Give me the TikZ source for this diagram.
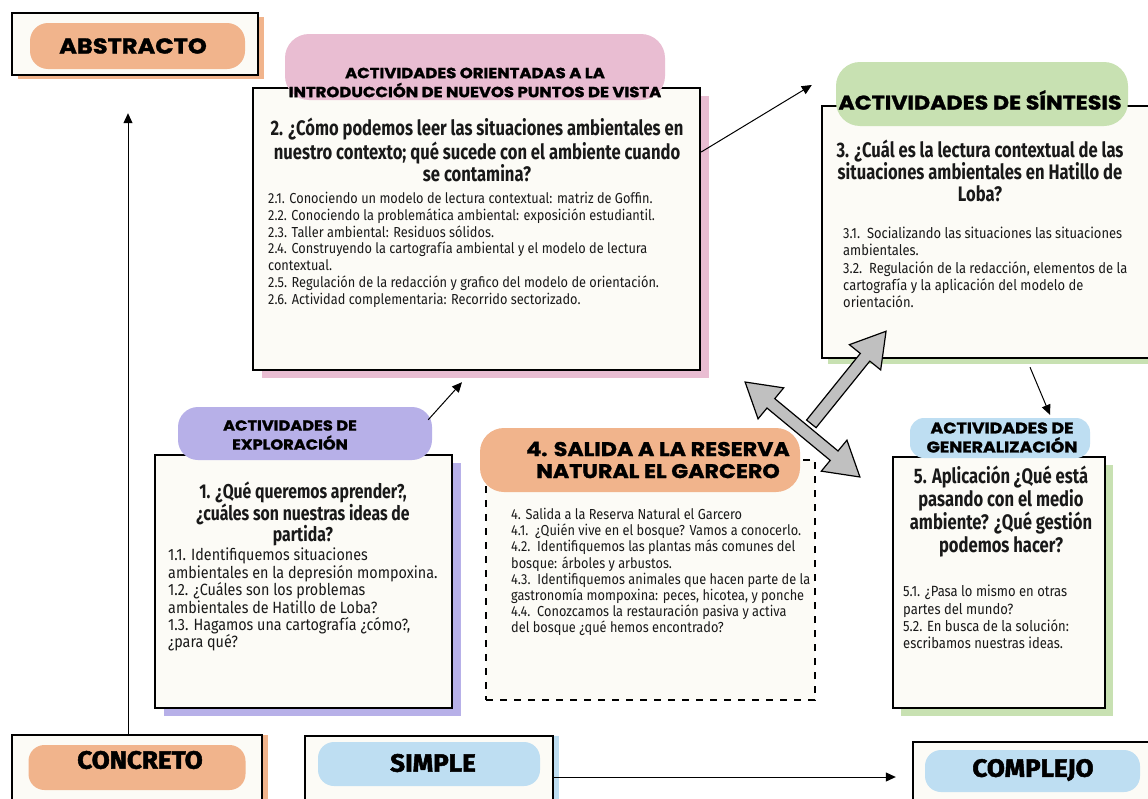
\documentclass[tikz,border=0pt]{standalone}
\usepackage{fontspec}
\setmainfont{Fira Sans}
\newfontfamily\bodyf[FakeStretch=0.88]{Fira Sans}
\newfontfamily\ttlf[FakeStretch=0.79]{Fira Sans}
\newfontfamily\headf[FakeStretch=1.12,FakeBold=1.5]{Poppins}
\newfontfamily\condf[FakeStretch=1.04,FakeBold=2]{Fira Sans}
\usetikzlibrary{arrows.meta,shapes.arrows,calc,shadows}
\definecolor{orangec}{RGB}{241,180,140}
\definecolor{pinkc}{RGB}{233,189,210}
\definecolor{greenc}{RGB}{200,225,178}
\definecolor{purplec}{RGB}{183,176,232}
\definecolor{bluec}{RGB}{190,222,242}
\definecolor{cream}{RGB}{252,251,246}
\definecolor{grayc}{RGB}{192,192,192}
\definecolor{inkc}{RGB}{25,25,25}
\begin{document}
\begin{tikzpicture}[x=1pt,y=-1pt,
  box/.style={draw=black, line width=2.4pt, fill=cream, inner sep=0},
  dbox/.style={draw=black, line width=1.8pt, dash pattern=on 7pt off 7pt, fill=cream, inner sep=0},
  blob/.style={rounded corners=18pt, inner sep=0},
  shad/.style 2 args={drop shadow={shadow xshift=#1, shadow yshift=#2, fill=shc, opacity=1}},
  hd/.style={font=\headf\bfseries\fontsize{14.7}{19}\selectfont, align=center, inner sep=0, text=black},
  ttl/.style={font=\ttlf\bfseries\fontsize{21}{22}\selectfont, align=center, inner sep=0, text=inkc},
  bdy/.style={font=\bodyf\fontsize{14.5}{16.8}\selectfont, align=left, inner sep=0, anchor=north west, text=inkc},
  big/.style={font=\condf\bfseries\fontsize{25}{27}\selectfont, inner sep=0, text=black},
  arr/.style={-{Triangle[length=10pt,width=9pt]}, line width=1pt},
  garr/.style={draw=black, line width=1.2pt, fill=grayc, inner sep=5.5pt}
]
\useasboundingbox (0,0) rectangle (1148,798);
\fill[white] (0,0) rectangle (1148,798);

% ABSTRACTO
\colorlet{shc}{orangec}
\node[box, minimum width=246, minimum height=62, shad={6pt}{-4pt}] (abs) at (135,44) {};
\node[blob, fill=orangec, minimum width=215, minimum height=46] (absb) at (137.5,46) {};
\node[font=\headf\bfseries\fontsize{21.5}{24}\selectfont, inner sep=0, text=black] (abst) at (133,46) {ABSTRACTO};

% Box 2 (pink)
\colorlet{shc}{pinkc}
\node[box, minimum width=447, minimum height=282, shad={9pt}{-8pt}] (b2) at (476.5,229) {};
\node[blob, fill=pinkc, minimum width=380, minimum height=66, rounded corners=24pt] (h2b) at (475,67) {};
\node[hd] (h2t) at (475,82.5) {ACTIVIDADES ORIENTADAS A LA\\INTRODUCCIÓN DE NUEVOS PUNTOS DE VISTA};
\node[ttl] (t2) at (477,150) {2. ¿Cómo podemos leer las situaciones ambientales en\\nuestro contexto; qué sucede con el ambiente cuando\\se contamina?};
\node[bdy] (d2) at (268,192) {2.1. Conociendo un modelo de lectura contextual: matriz de Goffin.\\2.2. Conociendo la problemática ambiental: exposición estudiantil.\\2.3. Taller ambiental: Residuos sólidos.\\2.4. Construyendo la cartografía ambiental y el modelo de lectura\\contextual.\\2.5. Regulación de la redacción y grafico del modelo de orientación.\\2.6. Actividad complementaria: Recorrido sectorizado.};

% Box 3 (green, synthesis)
\colorlet{shc}{greenc}
\node[box, minimum width=330, minimum height=252, shad={6pt}{-6pt}] (b3) at (987,232) {};
\node[blob, fill=greenc, minimum width=292, minimum height=64, rounded corners=24pt] (h3b) at (982,94) {};
\node[font=\headf\bfseries\fontsize{19.8}{22}\selectfont, inner sep=0, text=black] (h3t) at (980,100) {ACTIVIDADES DE SÍNTESIS};
\node[ttl] (t3) at (980,171) {3. ¿Cuál es la lectura contextual de las\\situaciones ambientales en Hatillo de\\Loba?};
\node[bdy, font=\bodyf\fontsize{14.7}{17.3}\selectfont] (d3) at (843,227) {3.1.\ \ Socializando las situaciones las situaciones\\ambientales.\\3.2.\ \ Regulación de la redacción, elementos de la\\cartografía y la aplicación del modelo de\\orientación.};

% Box 5 (generalization)
\colorlet{shc}{greenc}
\node[box, minimum width=212, minimum height=251, shad={8pt}{-8pt}] (b5) at (999,582.5) {};
\node[blob, fill=bluec, minimum width=180, minimum height=40, rounded corners=14pt] (h5b) at (1000,438) {};
\node[hd, font=\headf\bfseries\fontsize{15.5}{19}\selectfont] (h5t) at (1002,437.5) {ACTIVIDADES DE\\GENERALIZACIÓN};
\node[ttl, font=\ttlf\bfseries\fontsize{21}{23}\selectfont] (t5) at (1001,511.5) {5. Aplicación ¿Qué está\\pasando con el medio\\ambiente? ¿Qué gestión\\podemos hacer?};
\node[bdy, font=\bodyf\fontsize{14.8}{17.3}\selectfont] (d5) at (903,585) {5.1. ¿Pasa lo mismo en otras\\partes del mundo?\\5.2. En busca de la solución:\\escribamos nuestras ideas.};

% Box 1 (exploration)
\colorlet{shc}{purplec}
\node[box, minimum width=297, minimum height=253, shad={9pt}{-8pt}] (b1) at (303.5,581.5) {};
\node[blob, fill=purplec, minimum width=254, minimum height=53, rounded corners=20pt] (h1b) at (305,433.5) {};
\node[hd, font=\headf\bfseries\fontsize{14.5}{19}\selectfont] (h1t) at (290,435) {ACTIVIDADES DE\\EXPLORACIÓN};
\node[ttl, font=\ttlf\bfseries\fontsize{20}{21}\selectfont] (t1) at (303,513.5) {1. ¿Qué queremos aprender?,\\¿cuáles son nuestras ideas de\\partida?};
\node[bdy, font=\bodyf\fontsize{16.3}{17.4}\selectfont] (d1) at (168,548) {1.1. Identifiquemos situaciones\\ambientales en la depresión mompoxina.\\1.2. ¿Cuáles son los problemas\\ambientales de Hatillo de Loba?\\1.3. Hagamos una cartografía ¿cómo?,\\¿para qué?};

% Box 4 (garcero)
\node[dbox, minimum width=329, minimum height=240] (b4) at (650.5,580) {};
\node[blob, fill=orangec, minimum width=320, minimum height=64, rounded corners=24pt] (h4b) at (640,460) {};
\node[hd, font=\headf\bfseries\fontsize{19.8}{22}\selectfont] (h4t) at (658,460) {4. SALIDA A LA RESERVA\\NATURAL EL GARCERO};
\node[bdy, font=\bodyf\fontsize{14.5}{16.2}\selectfont] (d4) at (511,508) {4. Salida a la Reserva Natural el Garcero\\4.1.\ \ ¿Quién vive en el bosque? Vamos a conocerlo.\\4.2.\ \ Identifiquemos las plantas más comunes del\\bosque: árboles y arbustos.\\4.3.\ \ Identifiquemos animales que hacen parte de la\\gastronomía mompoxina: peces, hicotea, y ponche\\4.4.\ \ Conozcamos la restauración pasiva y activa\\del bosque ¿qué hemos encontrado?};

% Bottom boxes
\colorlet{shc}{orangec}
\node[box, minimum width=250, minimum height=70, shad={6pt}{0pt}] (con) at (137,770) {};
\node[blob, fill=orangec, minimum width=217, minimum height=45, rounded corners=16pt] (conb) at (137,767.5) {};
\node[big] (cont) at (140,760) {CONCRETO};
\colorlet{shc}{bluec}
\node[box, minimum width=248, minimum height=69, shad={6pt}{0pt}] (sim) at (429,770.5) {};
\node[blob, fill=bluec, minimum width=222, minimum height=44, rounded corners=16pt] (simb) at (429,764) {};
\node[big] (simt) at (433,763) {SIMPLE};
\node[box, minimum width=239, minimum height=63] (com) at (1032.5,773.5) {};
\node[blob, fill=bluec, minimum width=215, minimum height=42, rounded corners=16pt] (comb) at (1032.5,771) {};
\node[big] (comt) at (1033,770) {COMPLEJO};

% Connectors
\draw[arr] ($(con.north)+(-9,0)$) -- ($(abs.south)+(-7,37)$);
\draw[arr] ($(sim.east)+(0,6.5)$) -- ($(com.west)+(-16,3.5)$);
\draw[arr] ($(b2.east)+(0,-77)$) -- ($(h3b.west)+(-24,-9)$);
\draw[arr] ($(b3.south)+(43,8)$) -- ($(h5b.north)+(50,-3)$);
\draw[arr] ($(h1b.north east)+(-4,13)$) -- ($(b2.south)+(-14.5,11)$);

% Gray arrows
\node[garr, double arrow, minimum height=149, double arrow head extend=14pt, double arrow tip angle=62, rotate=-39.6] (da) at (802.5,429.5) {};
\node[garr, single arrow, minimum height=119, single arrow head extend=14pt, single arrow tip angle=62, rotate=51.1] (sa) at (845.5,381.5) {};
\end{tikzpicture}
\end{document}
